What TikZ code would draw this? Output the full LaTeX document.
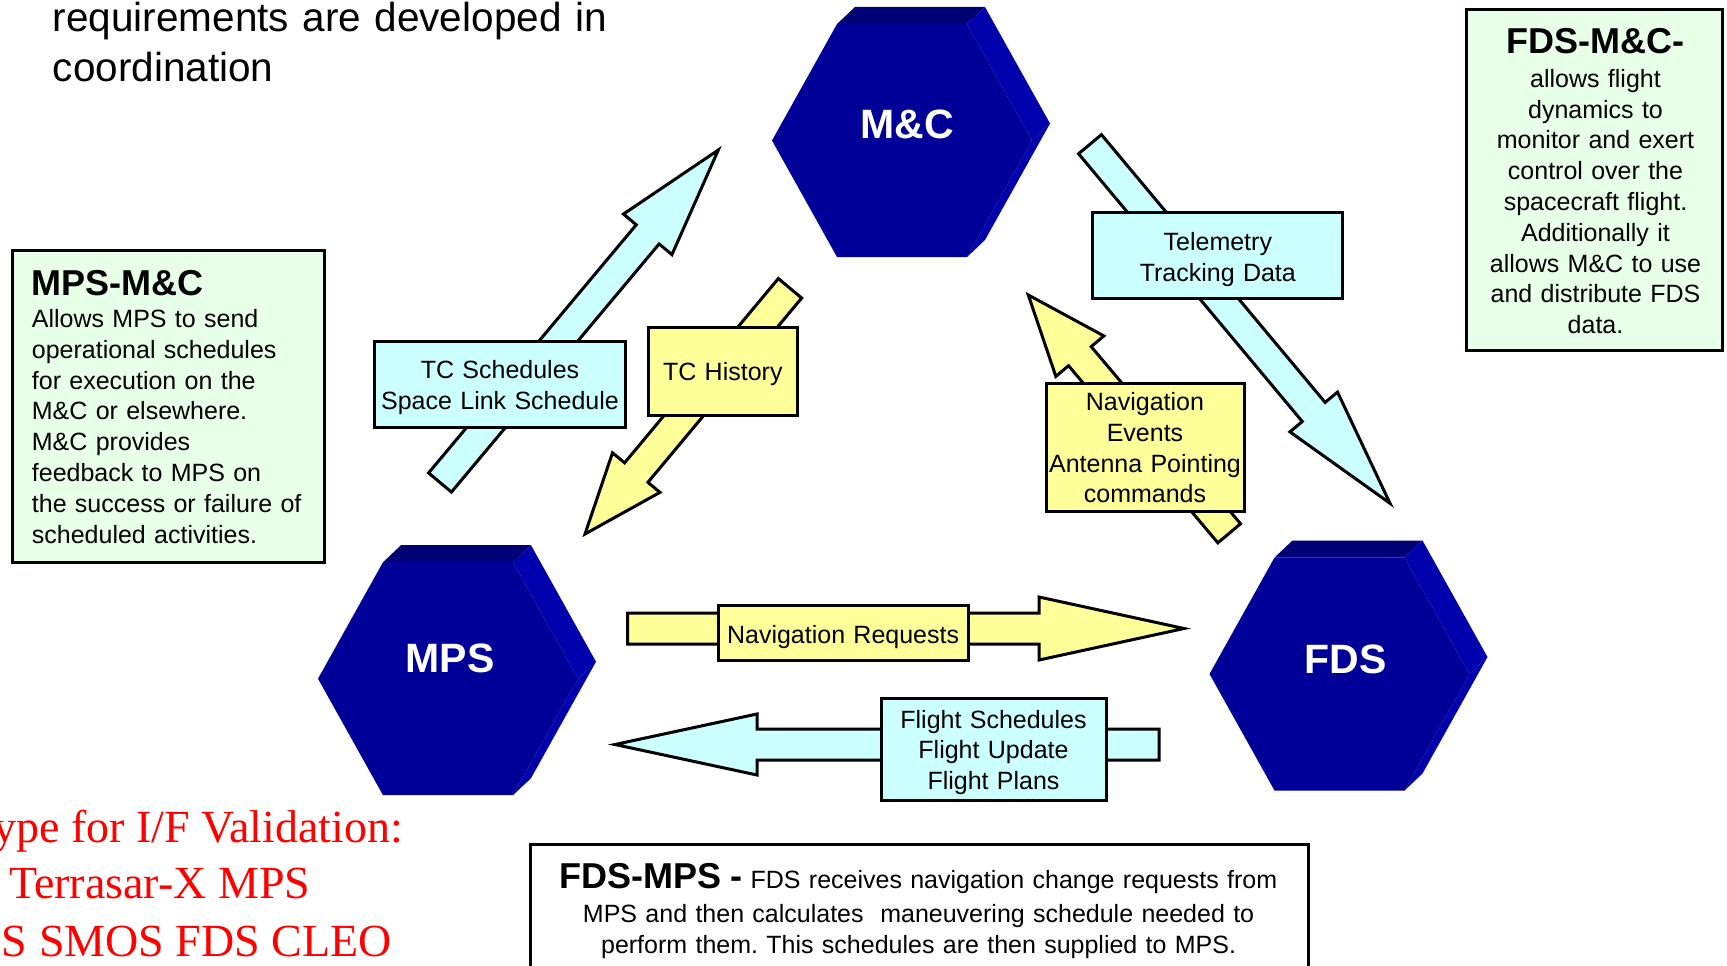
\documentclass[tikz,border=0pt]{standalone}
\usepackage{fontspec}
\setmainfont{Liberation Sans}
\newfontfamily\serifred{Liberation Serif}
\usetikzlibrary{calc}
\frenchspacing
\definecolor{cyanfill}{RGB}{204,255,255}
\definecolor{yellowfill}{RGB}{255,255,153}
\definecolor{greenfill}{RGB}{232,255,232}
\definecolor{hexfront}{RGB}{0,0,153}
\definecolor{hextop}{RGB}{0,0,117}
\definecolor{hexside}{RGB}{0,0,172}
\newcommand{\fsz}[2]{\fontsize{#1pt}{#2pt}\selectfont}
\tikzset{
  lbl/.style={draw=black, line width=3pt, inner sep=0pt},
  lbltext/.style={inner sep=0pt, anchor=base, text width=260pt, align=center, font=\fsz{25}{30.5}},
  arrowbody/.style={draw=black, line width=3pt, line join=miter},
  infobox/.style={draw=black, line width=3pt, fill=greenfill, inner sep=0pt},
  hexlabel/.style={text=white, font=\bfseries\fsz{41}{49}, inner sep=0pt},
  plaintext/.style={inner sep=0pt},
}
\newcommand{\hexprism}[6]{%
  \begin{scope}[shift={(#2,#3)}]
    \fill[hextop] (-65,-116.5) -- (-47,-133.5) -- (83,-133.5) -- (65,-116.5) -- cycle;
    \fill[hexside] (65,-116.5) -- (83,-133.5) -- (148,-17) -- (130,0) -- cycle;
    \fill[hexside] (130,0) -- (148,-17) -- (83,99.5) -- (65,116.5) -- cycle;
    \fill[hexfront] (-65,-116.5) -- (65,-116.5) -- (130,0) -- (65,116.5) -- (-65,116.5) -- (-130,0) -- cycle;
    \node[hexlabel, anchor=base] (#1) at (#5,#6) {#4};
  \end{scope}}
\newcommand{\blockarrow}[6]{%
  \coordinate (ba-b) at ($(#2)!#5!(#1)$);
  \draw[arrowbody, fill=#6] ($(#1)!#3!90:(#2)$) -- ($(ba-b)!#3!90:(#2)$) -- ($(ba-b)!#4!90:(#2)$) -- (#2)
    -- ($(ba-b)!#4!-90:(#2)$) -- ($(ba-b)!#3!-90:(#2)$) -- ($(#1)!#3!-90:(#2)$) -- cycle;}
\begin{document}
\begin{tikzpicture}[x=1pt,y=-1pt]
\useasboundingbox (0,0) rectangle (1727,966);
\clip (0,0) rectangle (1727,966);
\fill[white] (0,0) rectangle (1727,966);

% heading text
\node[plaintext, anchor=base west, font=\fsz{40.5}{50}, text width=700pt, align=left] (req) at (52.7,31.7)
  {requirements are developed in\\coordination};

% hexagons
\hexprism{mc}{902}{140.5}{M\&C}{5}{-2}
\hexprism{mps}{448}{678.7}{MPS}{2}{-6}
\hexprism{fds}{1339.5}{674}{FDS}{6}{-1}

% arrow end points
\coordinate (tcs-t) at (440,482.5);   \coordinate (tcs-h) at (718.3,150);
\coordinate (tch-t) at (790,288.3);   \coordinate (tch-h) at (585,534);
\coordinate (tel-t) at (1090,144.2);  \coordinate (tel-h) at (1390,503.3);
\coordinate (nev-t) at (1229.2,533.3); \coordinate (nev-h) at (1028.3,295);
\coordinate (nrq-t) at (627.7,628.5); \coordinate (nrq-h) at (1184,628.5);
\coordinate (fl-t) at (1159,744.5);   \coordinate (fl-h) at (615,744.5);

\blockarrow{tcs-t}{tcs-h}{14.9pt}{31.6pt}{110pt}{cyanfill}
\blockarrow{tch-t}{tch-h}{15.2pt}{30.9pt}{80pt}{yellowfill}
\blockarrow{tel-t}{tel-h}{14.9pt}{31pt}{119pt}{cyanfill}
\blockarrow{nev-t}{nev-h}{14.8pt}{31.4pt}{80pt}{yellowfill}
\blockarrow{nrq-t}{nrq-h}{15.5pt}{31.5pt}{145pt}{yellowfill}
\blockarrow{fl-t}{fl-h}{15.5pt}{30.5pt}{142pt}{cyanfill}

% label boxes
\node[lbl, fill=cyanfill, minimum width=251pt, minimum height=86pt] (tcs) at (500,384.2) {};
\node[lbltext] (tcs-txt) at (500,378.5) {TC Schedules\\Space Link Schedule};
\node[lbl, fill=yellowfill, minimum width=149pt, minimum height=88pt] (tch) at (722.8,371.7) {};
\node[lbltext] (tch-txt) at (722.8,380.5) {TC History};
\node[lbl, fill=cyanfill, minimum width=250pt, minimum height=86pt] (tel) at (1217.8,255.8) {};
\node[lbltext] (tel-txt) at (1217.8,250.5) {Telemetry\\Tracking Data};
\node[lbl, fill=yellowfill, minimum width=198pt, minimum height=128pt] (nev) at (1145,447.2) {};
\node[lbltext, font=\fsz{25}{30.8}] (nev-txt) at (1145,410.5) {Navigation\\Events\\Antenna Pointing\\commands};
\node[lbl, fill=yellowfill, minimum width=250pt, minimum height=55pt] (nrq) at (843.1,632.5) {};
\node[lbltext] (nrq-txt) at (843.1,643) {Navigation Requests};
\node[lbl, fill=cyanfill, minimum width=225pt, minimum height=102pt] (fl) at (993.5,749) {};
\node[lbltext] (fl-txt) at (993.5,728) {Flight Schedules\\Flight Update\\Flight Plans};

% MPS-M&C info box
\node[infobox, minimum width=312pt, minimum height=312.4pt, anchor=north west] (mpsmcbox) at (10.8,248.8) {};
\node[plaintext, anchor=base west, font=\bfseries\fsz{36}{40}] (mpsmctitle) at (31.7,295) {MPS-M\&C};
\node[plaintext, anchor=base west, font=\fsz{25}{30.85}, text width=300pt, align=left] (mpsmctext) at (31.7,327.3)
  {Allows MPS to send\\operational schedules\\for execution on the\\M\&C or elsewhere.\\M\&C provides\\feedback to MPS on\\the success or failure of\\scheduled activities.};

% FDS-M&C info box
\node[infobox, minimum width=256.5pt, minimum height=341pt, anchor=north west] (fdsmcbox) at (1464.8,8.3) {};
\node[plaintext, anchor=base, font=\bfseries\fsz{36}{40}] (fdsmctitle) at (1595.5,53.3) {FDS-M\&C-};
\node[plaintext, anchor=base, font=\fsz{25}{30.8}, text width=250pt, align=center] (fdsmctext) at (1595.5,87.3)
  {allows flight\\dynamics to\\monitor and exert\\control over the\\spacecraft flight.\\Additionally it\\allows M\&C to use\\and distribute FDS\\data.};

% FDS-MPS info box
\node[infobox, fill=white, minimum width=777.8pt, minimum height=160pt, anchor=north west] (fdsmpsbox) at (529.2,843.2) {};
\node[plaintext, anchor=base, font=\fsz{25}{31}, text width=770pt, align=center] (fdsmpstext) at (918.6,888.3)
  {{\bfseries\fsz{36}{40}FDS-MPS -} FDS receives navigation change requests from\\[3.5pt]MPS and then calculates~ maneuvering schedule needed to\\perform them. This schedules are then supplied to MPS.};

% red prototype text
\node[plaintext, anchor=base east, font=\serifred\fsz{46}{57}, text=red] (red1) at (403.4,842) {ype for I/F Validation:};
\node[plaintext, anchor=base east, font=\serifred\fsz{46}{57}, text=red] (red2) at (310.6,898.3) {Terrasar-X MPS};
\node[plaintext, anchor=base east, font=\serifred\fsz{46}{57}, text=red] (red3) at (392,956.7) {S SMOS FDS CLEO};
\end{tikzpicture}
\end{document}
